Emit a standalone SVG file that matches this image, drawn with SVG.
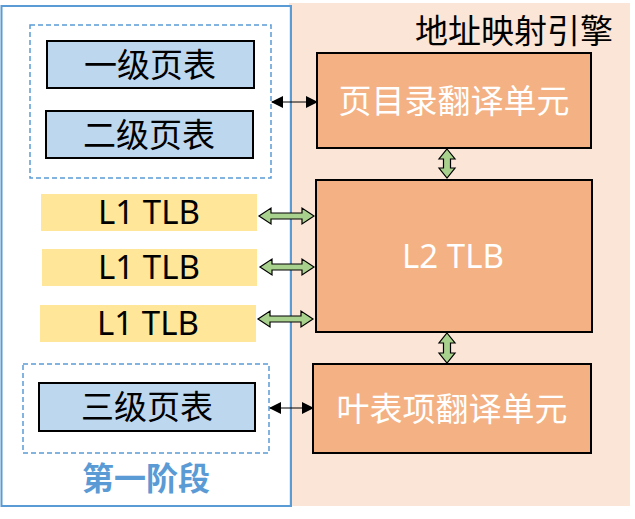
<svg xmlns="http://www.w3.org/2000/svg" width="635" height="519" viewBox="0 0 635 519">
<style>
.cjk{font-family:"Noto Sans CJK SC","Noto Sans",sans-serif;font-size:33px;text-anchor:middle}
.lat{font-family:"Noto Sans","Liberation Sans",sans-serif;font-size:33px;text-anchor:middle}
.pt{fill:#BDD7EE;stroke:#000;stroke-width:2}
.tlb{fill:#FFE699}
.unit{fill:#F4B183;stroke:#000;stroke-width:2}
.dash{fill:none;stroke:#5B9BD5;stroke-width:1.5;stroke-dasharray:5 3}
.garrow{fill:#A9D18E;stroke:#000;stroke-width:1.2;stroke-linejoin:miter}
.thin{stroke:#000;stroke-width:1;fill:none;marker-start:url(#ah);marker-end:url(#ah)}
</style>
<defs>
<marker id="ah" viewBox="0 0 12 12" refX="11" refY="6" markerWidth="12" markerHeight="12" markerUnits="userSpaceOnUse" orient="auto-start-reverse">
<path d="M0,0 L12,6 L0,12 Z" fill="#000"/>
</marker>
</defs>
<rect x="289" y="3" width="341" height="503" fill="#FBE5D6"/>
<g id="stage1">
<rect x="1.5" y="6" width="289.5" height="500" fill="none" stroke="#5B9BD5" stroke-width="2"/>
<text x="146" y="490" font-family="'Noto Sans CJK SC',sans-serif" font-size="32" font-weight="bold" fill="#5B9BD5" text-anchor="middle">第一阶段</text>
</g>
<g id="engine-label">
<text x="514" y="43" class="cjk">地址映射引擎</text>
</g>
<g id="group1"><rect x="30" y="25" width="241" height="153" class="dash"/></g>
<g id="pt1"><rect x="47" y="41" width="207" height="47" class="pt"/><text x="150" y="77" class="cjk">一级页表</text></g>
<g id="pt2"><rect x="46" y="111" width="207" height="47" class="pt"/><text x="149" y="147" class="cjk">二级页表</text></g>
<g id="tlb1"><rect x="41" y="194" width="216" height="37" class="tlb"/><text x="149" y="224" class="lat">L1 TLB</text></g>
<g id="tlb2"><rect x="42" y="249" width="215" height="37" class="tlb"/><text x="149" y="279" class="lat">L1 TLB</text></g>
<g id="tlb3"><rect x="40" y="305" width="216" height="37" class="tlb"/><text x="148" y="335" class="lat">L1 TLB</text></g>
<g id="group2"><rect x="23" y="364" width="246" height="89" class="dash"/></g>
<g id="pt3"><rect x="39" y="383" width="216" height="48" class="pt"/><text x="147" y="419" class="cjk">三级页表</text></g>
<g id="pdu"><rect x="317" y="53" width="274" height="95" class="unit"/><text x="454" y="113" class="cjk" fill="#fff">页目录翻译单元</text></g>
<g id="l2tlb"><rect x="316" y="180" width="276" height="152" class="unit"/><text x="453" y="268" class="lat" fill="#fff">L2 TLB</text></g>
<g id="leu"><rect x="313" y="364" width="278" height="89" class="unit"/><text x="452" y="421" class="cjk" fill="#fff">叶表项翻译单元</text></g>
<g id="connectors">
<line x1="272" y1="102" x2="317" y2="102" class="thin"/>
<line x1="270" y1="408" x2="313" y2="408" class="thin"/>
<path class="garrow" d="M259,216 L271,208 L271,213 L302,213 L302,208 L314,216 L302,224 L302,219 L271,219 L271,224 Z"/>
<path class="garrow" d="M260,267 L272,259 L272,264 L302,264 L302,259 L314,267 L302,275 L302,270 L272,270 L272,275 Z"/>
<path class="garrow" d="M258,319 L270,311 L270,316 L301,316 L301,311 L313,319 L301,327 L301,322 L270,322 L270,327 Z"/>
<path class="garrow" d="M447,149 L455,159 L450.5,159 L450.5,168 L455,168 L447,178 L439,168 L443.5,168 L443.5,159 L439,159 Z"/>
<path class="garrow" d="M447,333 L455,343 L450.5,343 L450.5,353 L455,353 L447,363 L439,353 L443.5,353 L443.5,343 L439,343 Z"/>
</g>
</svg>
